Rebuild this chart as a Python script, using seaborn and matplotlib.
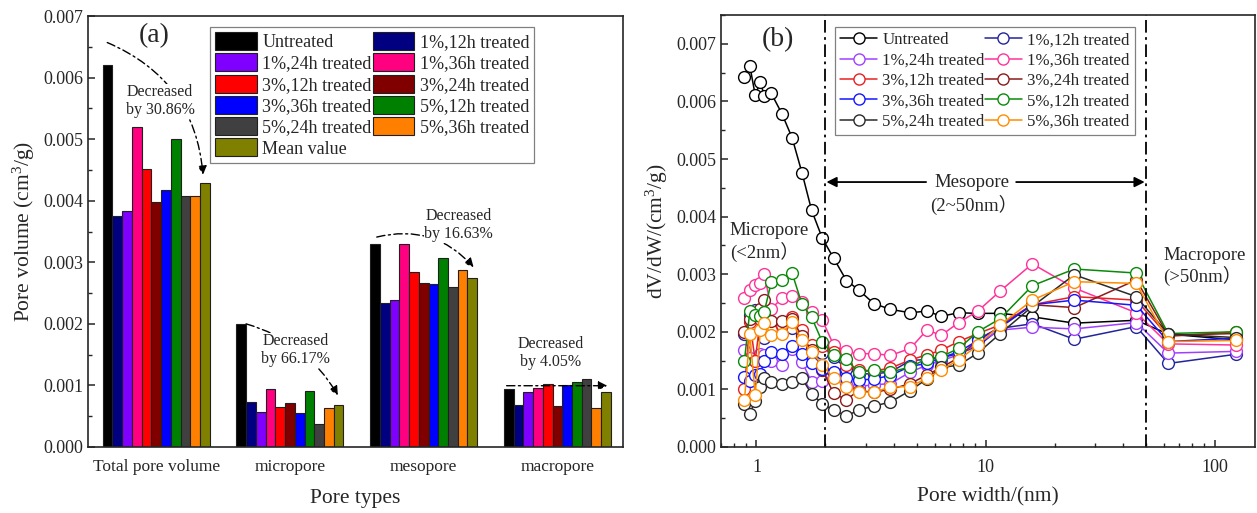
import matplotlib
matplotlib.use("Agg")
import matplotlib.pyplot as plt
import matplotlib.ticker as mticker
from matplotlib.patches import Patch
from matplotlib.lines import Line2D
import pandas as pd
import seaborn as sns

# ---- panel (a): pore volume by pore type ----
pore_types = ["Total pore volume", "micropore", "mesopore", "macropore"]
samples = ["Untreated", "1%,12h treated", "1%,24h treated", "1%,36h treated",
           "3%,12h treated", "3%,24h treated", "3%,36h treated", "5%,12h treated",
           "5%,24h treated", "5%,36h treated", "Mean value"]
bar_colors = ["#000000", "#000080", "#8000ff", "#ff0080", "#ff0000", "#800000",
              "#0000ff", "#008000", "#404040", "#ff8000", "#808000"]

total_volume = [0.00621, 0.00376, 0.00383, 0.00519, 0.00452, 0.00398,
                0.00418, 0.00501, 0.00407, 0.00408, 0.00429]
micro_volume = [0.00200, 0.00073, 0.00057, 0.00094, 0.00065, 0.00072,
                0.00055, 0.00091, 0.00038, 0.00064, 0.00069]
meso_volume = [0.00329, 0.00234, 0.00238, 0.00329, 0.00285, 0.00267,
               0.00264, 0.00307, 0.00260, 0.00288, 0.00275]
macro_volume = [0.00094, 0.00069, 0.00089, 0.00096, 0.00103, 0.00067,
                0.00100, 0.00105, 0.00111, 0.00064, 0.00089]

# ---- panel (b): dV/dW vs pore width ----
line_samples = samples[:10]
line_colors = ["#000000", "#24249c", "#a040ff", "#ff3399", "#e82020", "#8b1a1a",
               "#1515ff", "#0a8a0a", "#2a2a2a", "#ff8c00"]
pore_width = [0.886, 0.935, 0.987, 1.04, 1.08, 1.16, 1.29, 1.43, 1.58, 1.74, 1.94,
              2.17, 2.47, 2.79, 3.25, 3.84, 4.69, 5.54, 6.41, 7.63, 9.25, 11.6,
              16.0, 24.4, 45.5, 62.7, 124]
dvdw_untreated = [6.43e-3, 6.62e-3, 6.11e-3, 6.34e-3, 6.10e-3, 6.14e-3, 5.79e-3, 5.37e-3, 4.76e-3,
                  4.11e-3, 3.62e-3, 3.28e-3, 2.89e-3, 2.73e-3, 2.49e-3, 2.39e-3, 2.33e-3, 2.36e-3,
                  2.27e-3, 2.33e-3, 2.32e-3, 2.32e-3, 2.26e-3, 2.15e-3, 2.20e-3, 1.96e-3, 1.86e-3]
dvdw_1_12 = [1.97e-3, 2.30e-3, 2.38e-3, 2.38e-3, 1.90e-3, 2.00e-3, 2.02e-3, 2.06e-3, 1.94e-3,
             1.74e-3, 1.63e-3, 1.56e-3, 1.36e-3, 1.27e-3, 1.27e-3, 1.30e-3, 1.50e-3, 1.52e-3,
             1.55e-3, 1.62e-3, 1.75e-3, 2.06e-3, 2.14e-3, 1.87e-3, 2.09e-3, 1.45e-3, 1.61e-3]
dvdw_1_24 = [1.68e-3, 1.55e-3, 1.50e-3, 1.62e-3, 1.60e-3, 1.50e-3, 1.42e-3, 1.70e-3, 1.48e-3,
             1.13e-3, 1.15e-3, 1.27e-3, 1.10e-3, 1.05e-3, 1.08e-3, 1.10e-3, 1.30e-3, 1.42e-3,
             1.50e-3, 1.60e-3, 1.80e-3, 2.03e-3, 2.08e-3, 2.05e-3, 2.16e-3, 1.63e-3, 1.66e-3]
dvdw_1_36 = [2.58e-3, 2.73e-3, 2.82e-3, 2.84e-3, 3.01e-3, 2.40e-3, 2.58e-3, 2.62e-3, 2.52e-3,
             2.34e-3, 2.20e-3, 1.77e-3, 1.66e-3, 1.62e-3, 1.62e-3, 1.59e-3, 1.71e-3, 2.03e-3,
             1.94e-3, 2.16e-3, 2.36e-3, 2.71e-3, 3.18e-3, 2.76e-3, 2.33e-3, 1.79e-3, 1.77e-3]
dvdw_3_12 = [1.00e-3, 2.17e-3, 1.50e-3, 2.23e-3, 2.30e-3, 2.03e-3, 2.11e-3, 2.26e-3, 2.03e-3,
             1.77e-3, 1.75e-3, 1.65e-3, 1.42e-3, 1.34e-3, 1.32e-3, 1.37e-3, 1.51e-3, 1.60e-3,
             1.68e-3, 1.83e-3, 1.97e-3, 2.12e-3, 2.47e-3, 2.61e-3, 2.55e-3, 1.92e-3, 2.00e-3]
dvdw_3_24 = [2.00e-3, 2.23e-3, 2.32e-3, 2.40e-3, 2.55e-3, 2.18e-3, 2.18e-3, 2.22e-3, 1.92e-3,
             1.68e-3, 1.34e-3, 0.93e-3, 0.82e-3, 0.98e-3, 0.95e-3, 1.00e-3, 1.10e-3, 1.25e-3,
             1.38e-3, 1.55e-3, 1.87e-3, 2.08e-3, 2.47e-3, 2.42e-3, 2.90e-3, 1.94e-3, 1.97e-3]
dvdw_3_36 = [1.22e-3, 1.15e-3, 1.25e-3, 1.27e-3, 1.50e-3, 1.65e-3, 1.62e-3, 1.76e-3, 1.62e-3,
             1.45e-3, 1.36e-3, 1.30e-3, 1.20e-3, 1.16e-3, 1.18e-3, 1.24e-3, 1.40e-3, 1.45e-3,
             1.55e-3, 1.65e-3, 1.85e-3, 2.08e-3, 2.47e-3, 2.55e-3, 2.46e-3, 1.83e-3, 1.89e-3]
dvdw_5_12 = [1.50e-3, 2.36e-3, 2.30e-3, 2.27e-3, 2.34e-3, 2.86e-3, 2.90e-3, 3.02e-3, 2.48e-3,
             2.25e-3, 1.82e-3, 1.59e-3, 1.52e-3, 1.30e-3, 1.33e-3, 1.30e-3, 1.39e-3, 1.53e-3,
             1.57e-3, 1.71e-3, 2.00e-3, 2.23e-3, 2.80e-3, 3.09e-3, 3.02e-3, 1.97e-3, 2.00e-3]
dvdw_5_24 = [0.75e-3, 0.58e-3, 0.80e-3, 1.05e-3, 1.19e-3, 1.13e-3, 1.10e-3, 1.13e-3, 1.19e-3,
             0.92e-3, 0.75e-3, 0.64e-3, 0.54e-3, 0.64e-3, 0.71e-3, 0.78e-3, 0.98e-3, 1.18e-3,
             1.38e-3, 1.42e-3, 1.63e-3, 1.97e-3, 2.44e-3, 2.99e-3, 2.61e-3, 1.96e-3, 1.90e-3]
dvdw_5_36 = [0.81e-3, 1.96e-3, 0.90e-3, 2.03e-3, 2.15e-3, 1.94e-3, 1.97e-3, 2.17e-3, 1.85e-3,
             1.65e-3, 1.42e-3, 1.19e-3, 1.04e-3, 0.95e-3, 0.95e-3, 1.04e-3, 1.05e-3, 1.19e-3,
             1.34e-3, 1.51e-3, 1.77e-3, 2.12e-3, 2.55e-3, 2.87e-3, 2.84e-3, 1.83e-3, 1.85e-3]
dvdw_series = [dvdw_untreated, dvdw_1_12, dvdw_1_24, dvdw_1_36, dvdw_3_12,
               dvdw_3_24, dvdw_3_36, dvdw_5_12, dvdw_5_24, dvdw_5_36]

# ---- style ----
sns.set_style("ticks")
plt.rcParams['font.family'] = ['Liberation Serif', 'Noto Sans CJK SC']
plt.rcParams['mathtext.default'] = 'regular'
plt.rcParams['xtick.direction'] = 'in'
plt.rcParams['ytick.direction'] = 'in'
plt.rcParams['axes.linewidth'] = 1.2

fig = plt.figure(figsize=(12.57, 5.13), dpi=100)
ax1 = fig.add_axes([0.070, 0.1287, 0.4256, 0.840])
ax2 = fig.add_axes([0.5736, 0.1287, 0.4248, 0.842])

# ---------------- panel (a) ----------------
rows = []
for ptype, vals in zip(pore_types, [total_volume, micro_volume, meso_volume, macro_volume]):
    for s, v in zip(samples, vals):
        rows.append({"Pore type": ptype, "Sample": s, "Volume": v})
bar_df = pd.DataFrame(rows)

sns.barplot(data=bar_df, x="Pore type", y="Volume", hue="Sample", hue_order=samples,
            order=pore_types, palette=bar_colors, saturation=1, edgecolor="#202020",
            linewidth=0.8, width=0.8, gap=0, legend=False, ax=ax1)

ax1.set_xlim(-0.51, 3.49)
ax1.set_ylim(0, 0.007)
ax1.yaxis.set_major_locator(mticker.MultipleLocator(0.001))
ax1.yaxis.set_minor_locator(mticker.MultipleLocator(0.0005))
ax1.yaxis.set_major_formatter(mticker.FormatStrFormatter('%.3f'))
ax1.tick_params(axis='y', which='major', length=5, width=1.1, labelsize=13)
ax1.tick_params(axis='y', which='minor', length=3, width=1.0)
ax1.tick_params(axis='x', length=0, labelsize=12.5, pad=9)
ax1.set_xlabel("Pore types", fontsize=15.5, labelpad=10)
ax1.set_ylabel("Pore volume (cm$^{3}$/g)", fontsize=15.5)
for sp in ax1.spines.values():
    sp.set_visible(True)
    sp.set_linewidth(1.2)

ax1.text(-0.015, 0.00669, "(a)", fontsize=20, ha='center', va='center')

dashdot = (0, (6, 2.5, 1.5, 2.5))
arrow_kw = dict(arrowstyle='-|>', color='black', lw=1.0, linestyle=dashdot,
                shrinkA=0, shrinkB=0, mutation_scale=13)
text_kw = dict(fontsize=11.5, ha='center', va='center', linespacing=1.15,
               bbox=dict(facecolor='white', edgecolor='none', pad=0.3), zorder=5)

ax1.annotate("", xy=(0.35, 0.00442), xytext=(-0.366, 0.00657),
             arrowprops=dict(connectionstyle='arc3,rad=-0.3', **arrow_kw))
ax1.text(0.03, 0.00562, "Decreased\nby 30.86%", **text_kw)

ax1.annotate("", xy=(1.358, 0.00084), xytext=(0.672, 0.0020),
             arrowprops=dict(connectionstyle='arc3,rad=-0.2', **arrow_kw))
ax1.text(1.04, 0.00157, "Decreased\nby 66.17%", **text_kw)

ax1.annotate("", xy=(2.373, 0.00292), xytext=(1.649, 0.00341),
             arrowprops=dict(connectionstyle='arc3,rad=-0.3', **arrow_kw))
ax1.text(2.26, 0.0036, "Decreased\nby 16.63%", **text_kw)

ax1.annotate("", xy=(3.373, 0.000995), xytext=(2.62, 0.000995),
             arrowprops=dict(connectionstyle='arc3,rad=0', **arrow_kw))
ax1.text(2.95, 0.00153, "Decreased\nby 4.05%", **text_kw)

bar_handles = [Patch(facecolor=c, edgecolor='#202020', linewidth=0.8) for c in bar_colors]
order = [0, 2, 4, 6, 8, 10, 1, 3, 5, 7, 9]
leg1 = ax1.legend([bar_handles[i] for i in order], [samples[i] for i in order],
                  ncol=2, loc='upper left', bbox_to_anchor=(0.228, 0.975), borderaxespad=0,
                  fontsize=13, handlelength=2.3, handleheight=1.15, labelspacing=0.12,
                  handletextpad=0.3, columnspacing=0.05, borderpad=0.3,
                  frameon=True, fancybox=False, edgecolor='#808080', framealpha=1)
leg1.get_frame().set_linewidth(0.9)

# ---------------- panel (b) ----------------
for name, vals, c in zip(line_samples, dvdw_series, line_colors):
    sns.lineplot(x=pore_width, y=vals, color=c, marker='o', markersize=8.5,
                 mfc='white', mec=c, mew=1.0, lw=1.1, sort=False, ax=ax2)

ax2.set_xscale('log')
ax2.set_xlim(0.70, 150)
ax2.set_ylim(0, 0.0075)
ax2.xaxis.set_major_locator(mticker.FixedLocator([1, 10, 100]))
ax2.xaxis.set_major_formatter(mticker.FixedFormatter(["1", "10", "100"]))
ax2.xaxis.set_minor_locator(mticker.LogLocator(base=10, subs=range(2, 10)))
ax2.xaxis.set_minor_formatter(mticker.NullFormatter())
ax2.yaxis.set_major_locator(mticker.MultipleLocator(0.001))
ax2.yaxis.set_minor_locator(mticker.MultipleLocator(0.0005))
ax2.yaxis.set_major_formatter(mticker.FormatStrFormatter('%.3f'))
ax2.tick_params(axis='both', which='major', length=5, width=1.1, labelsize=13)
ax2.tick_params(axis='both', which='minor', length=3, width=1.0)
ax2.tick_params(axis='x', pad=9)
ax2.set_xlabel("Pore width/(nm)", fontsize=15.5, labelpad=8)
ax2.set_ylabel("dV/dW/(cm$^{3}$/g)", fontsize=15.5)
for sp in ax2.spines.values():
    sp.set_visible(True)
    sp.set_linewidth(1.2)

for xv in [2, 50]:
    ax2.axvline(xv, color='black', lw=1.3, linestyle=(0, (7, 2.5, 1.5, 2.5)))

ax2.text(1.235, 0.00707, "(b)", fontsize=20, ha='center', va='center')

arr_kw = dict(arrowstyle='-|>', color='black', lw=1.3, shrinkA=0, shrinkB=0, mutation_scale=15)
ax2.annotate("", xy=(2.02, 0.0046), xytext=(5.5, 0.0046), arrowprops=arr_kw)
ax2.annotate("", xy=(49.5, 0.0046), xytext=(13.6, 0.0046), arrowprops=arr_kw)
ax2.text(8.7, 0.0046, "Mesopore", fontsize=13.5, ha='center', va='center')
ax2.text(8.9, 0.0042, "(2~50nm）", fontsize=13.5, ha='center', va='center')
ax2.text(0.765, 0.0039, "Micropore\n(<2nm）", fontsize=13.5, ha='left', va='top', linespacing=1.15)
ax2.text(59.5, 0.00348, "Macropore\n(>50nm）", fontsize=13.5, ha='left', va='top', linespacing=1.15)

line_handles = [Line2D([], [], color=c, lw=1.1, marker='o', markersize=8, mfc='white',
                       mec=c, mew=1.0) for c in line_colors]
order_b = [0, 2, 4, 6, 8, 1, 3, 5, 7, 9]
leg2 = ax2.legend([line_handles[i] for i in order_b], [line_samples[i] for i in order_b],
                  ncol=2, loc='upper left', bbox_to_anchor=(0.2135, 0.972), borderaxespad=0,
                  fontsize=12.2, handlelength=2.2, labelspacing=0.26, numpoints=1,
                  handletextpad=0.3, columnspacing=0.0, borderpad=0.3,
                  frameon=True, fancybox=False, edgecolor='#808080', framealpha=1)
leg2.get_frame().set_linewidth(0.9)

fig.savefig("out.png", dpi=100)
